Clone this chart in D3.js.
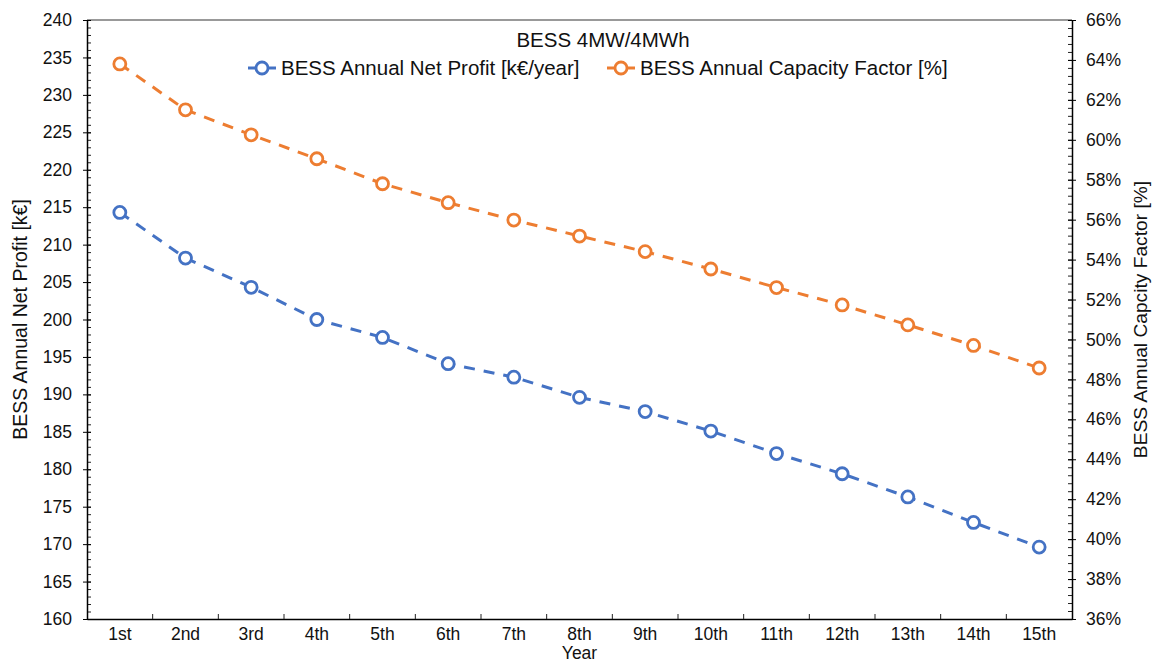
<!DOCTYPE html>
<html>
<head>
<meta charset="utf-8">
<script src="https://d3js.org/d3.v7.min.js"></script>
<style>
  body { margin: 0; background: #fff; }
  svg { font-family: "Liberation Sans", Arial, Helvetica, sans-serif; }
</style>
</head>
<body>
<div id="chart"></div>
<script>
// Data
const years = ["1st", "2nd", "3rd", "4th", "5th", "6th", "7th", "8th", "9th", "10th", "11th", "12th", "13th", "14th", "15th"];
const netProfit = [214.3, 208.2, 204.3, 200.0, 197.6, 194.1, 192.3, 189.6, 187.7, 185.1, 182.1, 179.4, 176.3, 172.9, 169.6];
const capacityFactor = [63.8, 61.5, 60.25, 59.05, 57.8, 56.85, 55.98, 55.18, 54.4, 53.53, 52.6, 51.73, 50.73, 49.7, 48.57];
const leftTicks = d3.range(160, 241, 5);
const rightTicks = d3.range(36, 67, 2);

const W = 1153, H = 663;
const margin = { top: 20, right: 81, bottom: 44, left: 87 },
    width = W - margin.left - margin.right,
    height = H - margin.top - margin.bottom;

const blue = "#4472C4", orange = "#ED7D31";

const svg = d3.select("#chart")
    .append("svg")
    .attr("width", W)
    .attr("height", H);

const g = svg.append("g")
    .attr("transform", `translate(${margin.left},${margin.top})`);

// Scales
const x = d3.scaleBand().domain(years).range([0, width]);
const y1 = d3.scaleLinear().domain([160, 240]).range([height, 0]);
const y2 = d3.scaleLinear().domain([36, 66]).range([height, 0]);

// Top border
g.append("line")
    .attr("x1", 0).attr("x2", width)
    .attr("y1", 0).attr("y2", 0)
    .attr("stroke", "#777").attr("stroke-width", 1.5);

// Left axis: minor ticks (inside) then major ticks crossing
g.append("g")
    .call(d3.axisRight(y1).tickValues(d3.range(160, 241, 1)).tickSize(4).tickFormat(""))
    .call(a => a.select(".domain").remove())
    .selectAll("line").attr("stroke", "#222");

g.append("g")
    .call(d3.axisLeft(y1).tickValues(leftTicks).tickSize(0).tickPadding(15))
    .call(a => a.select(".domain").attr("stroke", "#000").attr("stroke-width", 1.5))
    .call(a => a.selectAll(".tick text").attr("font-size", 17.5).attr("fill", "#111"))
    .call(a => a.selectAll(".tick line").attr("x1", -4).attr("x2", 4).attr("stroke", "#000"));

// Right axis
g.append("g")
    .attr("transform", `translate(${width},0)`)
    .call(d3.axisLeft(y2).tickValues(d3.range(36, 66.01, 0.4)).tickSize(4).tickFormat(""))
    .call(a => a.select(".domain").remove())
    .selectAll("line").attr("stroke", "#222");

g.append("g")
    .attr("transform", `translate(${width},0)`)
    .call(d3.axisRight(y2).tickValues(rightTicks).tickSize(0).tickPadding(14).tickFormat(d => d + "%"))
    .call(a => a.select(".domain").attr("stroke", "#000").attr("stroke-width", 1.5))
    .call(a => a.selectAll(".tick text").attr("font-size", 17.5).attr("fill", "#111"))
    .call(a => a.selectAll(".tick line").attr("x1", -4).attr("x2", 4).attr("stroke", "#000"));

// Bottom axis: labels centred on bands, ticks on band boundaries
g.append("g")
    .attr("transform", `translate(0,${height})`)
    .call(d3.axisBottom(x).tickSize(0).tickPadding(9))
    .call(a => a.select(".domain").attr("stroke", "#000").attr("stroke-width", 1.5))
    .call(a => a.selectAll(".tick text").attr("font-size", 17.5).attr("fill", "#111"));

g.append("g")
    .selectAll("line")
    .data(years.slice(1))
    .join("line")
    .attr("x1", d => x(d)).attr("x2", d => x(d))
    .attr("y1", height).attr("y2", height - 5)
    .attr("stroke", "#222");

// Lines
const lineProfit = d3.line().x((d, i) => x(years[i]) + x.bandwidth() / 2).y(d => y1(d));
const lineCF = d3.line().x((d, i) => x(years[i]) + x.bandwidth() / 2).y(d => y2(d));

g.append("path").datum(netProfit)
    .attr("fill", "none").attr("stroke", blue)
    .attr("stroke-width", 3).attr("stroke-dasharray", "11,9")
    .attr("d", lineProfit);

g.append("path").datum(capacityFactor)
    .attr("fill", "none").attr("stroke", orange)
    .attr("stroke-width", 3).attr("stroke-dasharray", "11,9")
    .attr("d", lineCF);

g.selectAll(".p-pt").data(netProfit).join("circle")
    .attr("class", "p-pt")
    .attr("cx", (d, i) => x(years[i]) + x.bandwidth() / 2)
    .attr("cy", d => y1(d))
    .attr("r", 6).attr("fill", "#fff")
    .attr("stroke", blue).attr("stroke-width", 2.8);

g.selectAll(".c-pt").data(capacityFactor).join("circle")
    .attr("class", "c-pt")
    .attr("cx", (d, i) => x(years[i]) + x.bandwidth() / 2)
    .attr("cy", d => y2(d))
    .attr("r", 6).attr("fill", "#fff")
    .attr("stroke", orange).attr("stroke-width", 2.8);

// Axis titles
svg.append("text")
    .attr("transform", `translate(20,${margin.top + height / 2}) rotate(-90)`)
    .attr("text-anchor", "middle")
    .attr("dy", "0.35em")
    .attr("font-size", 19.5).attr("fill", "#111")
    .text("BESS Annual Net Profit [k€]");

svg.append("text")
    .attr("transform", `translate(1140,${margin.top + height / 2}) rotate(-90)`)
    .attr("text-anchor", "middle")
    .attr("dy", "0.35em")
    .attr("font-size", 19.2).attr("fill", "#111")
    .text("BESS Annual Capcity Factor [%]");

svg.append("text")
    .attr("x", margin.left + width / 2)
    .attr("y", 659)
    .attr("text-anchor", "middle")
    .attr("font-size", 17.5).attr("fill", "#111")
    .text("Year");

// Title + legend
svg.append("text")
    .attr("x", 603).attr("y", 47)
    .attr("text-anchor", "middle")
    .attr("font-size", 20.5).attr("fill", "#111")
    .text("BESS 4MW/4MWh");

const legendItems = [
    { label: "BESS Annual Net Profit [k€/year]", color: blue, x: 248 },
    { label: "BESS Annual Capacity Factor [%]", color: orange, x: 607 }
];

const legend = svg.append("g").attr("transform", "translate(0,68)");
legendItems.forEach(it => {
    legend.append("line")
        .attr("x1", it.x).attr("x2", it.x + 28)
        .attr("stroke", it.color).attr("stroke-width", 3);
    legend.append("circle")
        .attr("cx", it.x + 14).attr("r", 6)
        .attr("fill", "#fff").attr("stroke", it.color).attr("stroke-width", 2.8);
    legend.append("text")
        .attr("x", it.x + 33).attr("dy", "0.35em")
        .attr("font-size", 20.5).attr("fill", "#111")
        .text(it.label);
});
</script>
</body>
</html>
